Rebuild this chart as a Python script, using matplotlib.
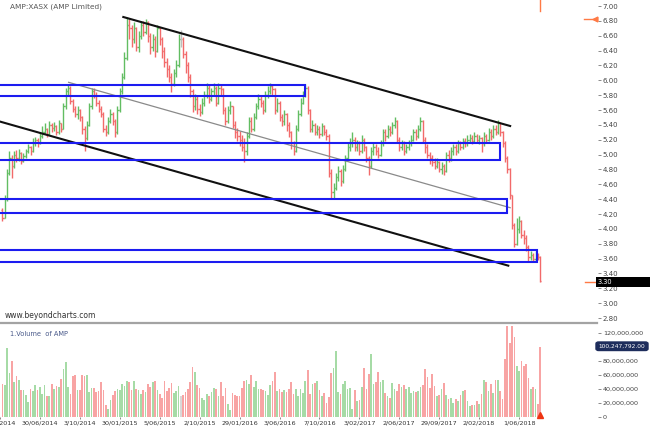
import matplotlib
matplotlib.use('Agg')
import matplotlib.pyplot as plt
import numpy as np
from matplotlib.patches import Rectangle, FancyBboxPatch
from matplotlib.lines import Line2D
from matplotlib.ticker import FuncFormatter

# ---------------- data (weekly bars) ----------------
first_open = 4.25
close = [4.15, 4.40, 4.75, 4.95, 4.85, 5.00, 4.95, 5.02, 4.92, 4.98,
         5.05, 5.10, 5.05, 5.15, 5.20, 5.15, 5.25, 5.30, 5.35, 5.28,
         5.40, 5.36, 5.38, 5.30, 5.42, 5.35, 5.65, 5.85, 5.90, 5.72,
         5.62, 5.55, 5.60, 5.50, 5.35, 5.22, 5.40, 5.65, 5.85, 5.80,
         5.70, 5.62, 5.55, 5.35, 5.30, 5.45, 5.55, 5.45, 5.30, 5.60,
         5.85, 6.05, 6.30, 6.75, 6.70, 6.55, 6.70, 6.45, 6.60, 6.75,
         6.65, 6.78, 6.60, 6.45, 6.55, 6.40, 6.70, 6.55, 6.40, 6.25,
         6.15, 6.05, 5.95, 6.10, 6.20, 6.55, 6.55, 6.35, 6.20, 6.05,
         5.85, 5.65, 5.75, 5.62, 5.58, 5.70, 5.80, 5.90, 5.75, 5.85,
         5.90, 5.70, 5.90, 5.88, 5.60, 5.45, 5.60, 5.65, 5.40, 5.30,
         5.25, 5.20, 5.10, 5.05, 5.25, 5.45, 5.35, 5.50, 5.65, 5.75,
         5.70, 5.60, 5.80, 5.85, 5.92, 5.88, 5.60, 5.70, 5.50, 5.45,
         5.55, 5.40, 5.30, 5.15, 5.05, 5.35, 5.55, 5.70, 5.80, 5.90,
         5.60, 5.35, 5.40, 5.30, 5.35, 5.28, 5.38, 5.30, 5.25, 4.75,
         4.50, 4.55, 4.70, 4.78, 4.65, 4.80, 4.95, 5.10, 5.15, 5.20,
         5.10, 5.15, 5.05, 5.20, 5.10, 4.95, 4.85, 5.05, 5.10, 5.05,
         5.00, 5.15, 5.30, 5.25, 5.35, 5.30, 5.40, 5.45, 5.20, 5.10,
         5.15, 5.05, 5.10, 5.15, 5.20, 5.30, 5.25, 5.35, 5.45, 5.20,
         5.10, 5.00, 4.95, 4.90, 4.85, 4.90, 4.80, 4.85, 4.78, 5.00,
         4.95, 5.05, 5.10, 5.05, 5.15, 5.10, 5.18, 5.15, 5.20, 5.22,
         5.18, 5.25, 5.20, 5.22, 5.15, 5.25, 5.20, 5.30, 5.25, 5.35,
         5.30, 5.42, 5.30, 5.15, 4.95, 4.80, 4.45, 4.05, 3.80, 4.00,
         4.10, 3.92, 3.88, 3.75, 3.62, 3.65, 3.60, 3.65, 3.62, 3.30]
high = [4.28, 4.45, 4.80, 5.05, 5.00, 5.05, 5.06, 5.08, 5.04, 5.02,
        5.08, 5.14, 5.12, 5.22, 5.24, 5.22, 5.30, 5.38, 5.42, 5.36,
        5.45, 5.42, 5.44, 5.40, 5.46, 5.43, 5.70, 5.90, 5.95, 5.92,
        5.75, 5.66, 5.65, 5.62, 5.52, 5.38, 5.45, 5.70, 5.90, 5.90,
        5.84, 5.74, 5.66, 5.58, 5.40, 5.50, 5.62, 5.58, 5.48, 5.65,
        5.90, 6.10, 6.38, 6.85, 6.82, 6.75, 6.78, 6.72, 6.66, 6.80,
        6.80, 6.82, 6.80, 6.64, 6.62, 6.60, 6.75, 6.72, 6.58, 6.45,
        6.30, 6.20, 6.10, 6.15, 6.28, 6.62, 6.68, 6.58, 6.40, 6.25,
        6.08, 5.88, 5.82, 5.80, 5.68, 5.76, 5.86, 5.96, 5.94, 5.90,
        5.96, 5.92, 5.96, 5.95, 5.90, 5.64, 5.66, 5.72, 5.66, 5.45,
        5.36, 5.32, 5.26, 5.22, 5.30, 5.50, 5.50, 5.56, 5.70, 5.82,
        5.80, 5.74, 5.86, 5.92, 5.96, 5.95, 5.90, 5.76, 5.72, 5.55,
        5.60, 5.56, 5.44, 5.32, 5.18, 5.40, 5.60, 5.76, 5.86, 5.95,
        5.92, 5.62, 5.46, 5.42, 5.40, 5.38, 5.42, 5.40, 5.34, 5.28,
        4.80, 4.62, 4.75, 4.84, 4.80, 4.86, 5.00, 5.15, 5.22, 5.30,
        5.24, 5.20, 5.18, 5.26, 5.22, 5.12, 4.98, 5.10, 5.15, 5.14,
        5.10, 5.20, 5.35, 5.34, 5.40, 5.38, 5.44, 5.50, 5.46, 5.24,
        5.20, 5.18, 5.14, 5.20, 5.26, 5.34, 5.34, 5.40, 5.50, 5.46,
        5.24, 5.14, 5.04, 5.00, 4.96, 4.95, 4.92, 4.90, 4.88, 5.04,
        5.06, 5.10, 5.14, 5.14, 5.20, 5.18, 5.22, 5.22, 5.26, 5.28,
        5.26, 5.30, 5.28, 5.26, 5.24, 5.30, 5.28, 5.36, 5.34, 5.40,
        5.40, 5.46, 5.44, 5.32, 5.18, 4.98, 4.82, 4.46, 4.08, 4.15,
        4.18, 4.12, 3.98, 3.92, 3.78, 3.70, 3.68, 3.70, 3.68, 3.64]
low = [4.10, 4.14, 4.38, 4.72, 4.68, 4.82, 4.90, 4.92, 4.88, 4.90,
       4.95, 5.02, 5.00, 5.04, 5.12, 5.10, 5.14, 5.22, 5.28, 5.24,
       5.26, 5.30, 5.32, 5.27, 5.28, 5.30, 5.34, 5.62, 5.80, 5.68,
       5.58, 5.50, 5.48, 5.45, 5.28, 5.05, 5.20, 5.38, 5.62, 5.76,
       5.66, 5.58, 5.50, 5.30, 5.25, 5.28, 5.42, 5.40, 5.24, 5.28,
       5.58, 5.82, 6.02, 6.28, 6.55, 6.45, 6.50, 6.40, 6.38, 6.55,
       6.60, 6.62, 6.52, 6.35, 6.40, 6.32, 6.38, 6.48, 6.30, 6.18,
       6.05, 5.98, 5.84, 5.92, 6.05, 6.18, 6.45, 6.30, 6.10, 5.98,
       5.78, 5.58, 5.60, 5.55, 5.52, 5.55, 5.66, 5.76, 5.70, 5.72,
       5.80, 5.65, 5.68, 5.80, 5.55, 5.40, 5.42, 5.55, 5.36, 5.22,
       5.18, 5.12, 5.05, 4.90, 5.00, 5.22, 5.30, 5.32, 5.48, 5.62,
       5.64, 5.55, 5.58, 5.76, 5.82, 5.80, 5.55, 5.58, 5.45, 5.38,
       5.40, 5.32, 5.24, 5.08, 5.00, 5.04, 5.32, 5.52, 5.68, 5.78,
       5.55, 5.30, 5.30, 5.26, 5.26, 5.22, 5.25, 5.26, 5.20, 4.70,
       4.42, 4.42, 4.52, 4.65, 4.58, 4.62, 4.78, 4.92, 5.05, 5.10,
       5.05, 5.05, 5.00, 5.02, 5.05, 4.90, 4.72, 4.82, 5.00, 5.00,
       4.95, 4.98, 5.12, 5.18, 5.22, 5.25, 5.28, 5.36, 5.15, 5.05,
       5.06, 5.00, 5.02, 5.06, 5.12, 5.18, 5.20, 5.22, 5.32, 5.15,
       5.02, 4.95, 4.88, 4.85, 4.80, 4.82, 4.76, 4.74, 4.72, 4.76,
       4.90, 4.92, 5.00, 5.00, 5.02, 5.06, 5.08, 5.10, 5.12, 5.16,
       5.14, 5.16, 5.15, 5.14, 5.04, 5.12, 5.16, 5.18, 5.20, 5.22,
       5.26, 5.28, 5.25, 5.10, 4.90, 4.75, 4.40, 4.00, 3.76, 3.78,
       3.95, 3.88, 3.80, 3.70, 3.56, 3.58, 3.56, 3.57, 3.58, 3.28]
volume_m = [46.5, 45.5, 98, 63, 80.5, 50.5, 58, 53, 39, 38, 31.5, 21.5,
            40.5, 36.5, 45.5, 38, 43, 33,
            45.5, 29.5, 29.5, 46.5, 40.5, 44, 43.5, 54, 68, 78,
            43, 33, 58, 60.5, 39, 38, 59.5, 58, 60.5, 35.5,
            41.5, 41.5, 35.5, 36.5, 49.5, 38, 16.5, 11.5, 24.5, 31.5,
            36.5, 40.5, 39, 46.5, 44, 52, 50.5, 39, 52, 40.5,
            39, 33, 39, 35.5, 47.5, 43, 50.5, 51.5, 39, 33,
            26.5, 52, 36.5, 41.5, 49, 34.5, 37, 44.5, 29.5, 31.5,
            35.5, 39.5, 49.5, 71.5, 64.5, 45.5, 41.5, 26.5, 24.5, 33.5,
            29.5, 35.5, 41.5, 39.5, 30.5, 49.5, 30.5, 41.5, 18, 10.5,
            34.5, 31.5, 30.5, 29.5, 42, 51.5, 53, 46.5, 60.5, 43,
            52, 39.5, 40.5, 39, 36.5, 31.5, 45.5, 51.5, 64.5, 36.5,
            39.5, 35.5, 38, 35.5, 40.5, 49.5, 33, 40.5, 30.5, 40.5,
            34.5, 51.5, 67, 33, 46.5, 48, 52, 38, 29.5, 34,
            20.5, 28, 63, 70.5, 94, 35.5, 33, 46.5, 51.5, 40.5,
            41.5, 12, 39, 23, 24.5, 43, 70.5, 39.5, 61.5,
            90.5, 46.5, 49.5, 64.5, 49.5, 52.5, 34.5, 29.5, 26.5, 49,
            40.5, 36.5, 46.5, 43, 45.5, 39.5, 43, 34.5, 36.5, 35.5,
            36.5, 43, 45.5, 68, 56.5, 41.5, 61.5, 44.5, 30.5, 31.5,
            40.5, 49, 31.5, 25.5, 26.5, 20.5, 25.5, 23, 31.5, 36.5,
            38, 23, 15.5, 16.5, 16.5, 23, 18, 33, 53, 50.5,
            36.5, 46.5, 34.5, 53, 53, 36.5, 25.5, 83, 130.5, 105.5,
            129.5, 114.5, 73, 65.5, 80.5, 73, 75.5, 55.5, 40.5,
            43, 40.5, 18, 100.25]

date_tick_pos = [-1, 16, 33, 50, 67, 84, 101, 118, 135, 152, 169, 186, 203, 220]
date_labels = ['7/03/2014', '30/06/2014', '3/10/2014', '30/01/2015', '5/06/2015',
               '2/10/2015', '29/01/2016', '3/06/2016', '7/10/2016', '3/02/2017',
               '2/06/2017', '29/09/2017', '2/02/2018', '1/06/2018']
vol_ticks = [0, 20, 40, 60, 80, 120]
vol_tick_labels = ['0', '20,000,000', '40,000,000', '60,000,000', '80,000,000', '120,000,000']

# zones (price bottom, price top, right end bar index)
zone_bottom = [5.79, 4.93, 4.22, 3.55]
zone_top = [5.94, 5.16, 4.40, 3.71]
zone_end = [128.9, 211.9, 214.9, 227.8]

# trend lines (bar index, price)
upper_line = [(51.5, 6.852), (216.2, 5.385)]
mid_line = [(28.2, 5.973), (216.2, 4.285)]
lower_line = [(-0.85, 5.443), (215.4, 3.505)]

last_price = 3.30
last_volume = 100247792.00

# ---------------- figure ----------------
W, H = 650, 428
fig = plt.figure(figsize=(W / 100, H / 100), dpi=100)
fig.patch.set_facecolor('white')

def fx(px):
    return px / W

def fy(py):
    return 1 - py / H

ax = fig.add_axes([0, fy(323), fx(598), 323 / H])
axv = fig.add_axes([0, fy(417), fx(598), 94 / H])

n = len(close)
x = np.arange(n)
c = np.array(close)
o = np.array([first_open] + close[:-1])
hi = np.array(high)
lo = np.array(low)
GREEN, RED, GRAY = '#62bd62', '#f26a6a', '#bdbdbd'
cols = [GREEN if cc > oo else (RED if cc < oo else GRAY) for oo, cc in zip(o, c)]
lighter = {GREEN: '#a6dba6', RED: '#f8a4a4', GRAY: '#d8d8d8'}
vcols = [lighter[k] for k in cols]

ax.vlines(x, lo, hi, colors=cols, lw=1.0, zorder=2)
ax.hlines(o, x - 0.5, x, colors=cols, lw=1.0, zorder=2)
ax.hlines(c, x, x + 0.5, colors=cols, lw=1.0, zorder=2)

for b, t, e in zip(zone_bottom, zone_top, zone_end):
    ax.add_patch(Rectangle((-3, b), e + 3, t - b, fill=False, edgecolor='#1c1cf0',
                           lw=1.5, zorder=4))

ax.plot([upper_line[0][0], upper_line[1][0]], [upper_line[0][1], upper_line[1][1]],
        color='#111111', lw=1.5, zorder=3)
ax.plot([mid_line[0][0], mid_line[1][0]], [mid_line[0][1], mid_line[1][1]],
        color='#8a8a8a', lw=0.9, zorder=3)
ax.plot([lower_line[0][0], lower_line[1][0]], [lower_line[0][1], lower_line[1][1]],
        color='#111111', lw=1.5, zorder=3)

XL = (-1.0, 253.6)
ax.set_xlim(*XL)
ax.set_ylim(2.733, 7.081)
ax.yaxis.tick_right()
ax.set_yticks(np.round(np.arange(2.8, 7.01, 0.2), 2))
ax.yaxis.set_major_formatter(FuncFormatter(lambda v, p: f'{v:.2f}'))
ax.tick_params(axis='y', length=2, width=0.6, color='#777', labelsize=5,
               labelcolor='#444', pad=1.5)
ax.tick_params(axis='x', bottom=False, labelbottom=False)
for s in ax.spines.values():
    s.set_visible(False)
ax.patch.set_alpha(0)

# volume
axv.bar(x, volume_m, width=0.72, color=vcols, edgecolor='none', zorder=2)
axv.set_xlim(*XL)
axv.set_ylim(0, 134.3)
axv.yaxis.tick_right()
axv.set_yticks(vol_ticks)
axv.set_yticklabels(vol_tick_labels)
axv.tick_params(axis='y', length=2, width=0.6, color='#777', labelsize=4.6,
                labelcolor='#444', pad=1.5)
axv.set_xticks(date_tick_pos)
axv.set_xticklabels(date_labels)
axv.tick_params(axis='x', length=1.5, width=0.6, color='#777', labelsize=4.6,
                labelcolor='#333', pad=0.8)
for s in axv.spines.values():
    s.set_visible(False)
axv.patch.set_alpha(0)
axv.plot([n - 1], [3.5], marker='^', color='#ee3311', markersize=4, clip_on=False, zorder=5)

# separator
fig.add_artist(Line2D([0, fx(597)], [fy(323), fy(323)], color='#a3a3a3', lw=1.6,
                      transform=fig.transFigure))

# texts
fig.text(fx(10), fy(7), 'AMP:XASX (AMP Limited)', fontsize=5.3, color='#555', va='center')
fig.text(fx(5), fy(316), 'www.beyondcharts.com', fontsize=5.5, color='#333', va='center')
fig.text(fx(10), fy(334), '1.Volume  of AMP', fontsize=4.8, color='#4a5a8a', va='center')

# last price box
fig.add_artist(Rectangle((fx(596), fy(286.5)), fx(54), 9.5 / H, transform=fig.transFigure,
                         facecolor='black', edgecolor='none', zorder=5))
fig.text(fx(598), fy(281.5), f'{last_price:.2f}', color='white', fontsize=4.8,
         va='center', zorder=6)
# last volume box
fig.add_artist(FancyBboxPatch((fx(596), fy(350.5)), fx(52), 8.5 / H,
                              boxstyle='round,pad=0,rounding_size=0.004',
                              transform=fig.transFigure, facecolor='#1e2d5c',
                              edgecolor='#1e2d5c', zorder=5))
fig.text(fx(622), fy(346.3), f'{last_volume:,.2f}', color='white', fontsize=4.2,
         va='center', ha='center', zorder=6)

# orange markers
OR = '#ff7a45'
fig.add_artist(Line2D([fx(584), fx(594)], [fy(19), fy(19)], color=OR, lw=1,
                      transform=fig.transFigure))
fig.add_artist(Line2D([fx(595)], [fy(19)], marker='<', color=OR, markersize=3.5,
                      transform=fig.transFigure))
fig.add_artist(Line2D([fx(585), fx(596)], [fy(282), fy(282)], color=OR, lw=1,
                      transform=fig.transFigure))
ax.plot([n - 1, n - 1], [7.081, 6.93], color=OR, lw=1, zorder=5, clip_on=False)

fig.savefig('out.png', dpi=100)
